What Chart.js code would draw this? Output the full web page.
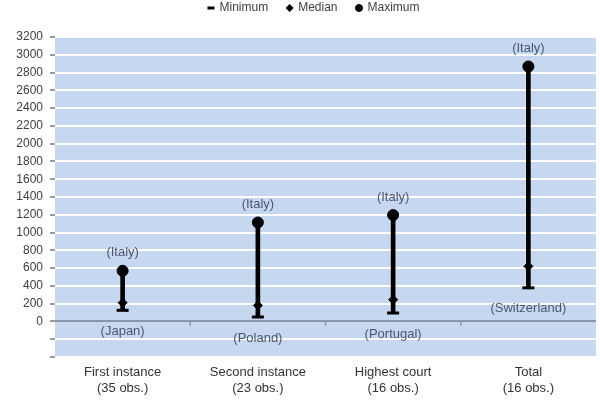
<!DOCTYPE html>
<html>
<head>
<meta charset="utf-8">
<script src="https://cdn.jsdelivr.net/npm/chart.js@4/dist/chart.umd.min.js"></script>
<style>
  html, body { margin: 0; padding: 0; background: #ffffff; }
  #wrap { width: 600px; height: 400px; position: relative; }
</style>
</head>
<body>
<div id="wrap"><canvas id="c"></canvas></div>
<script>
const categories = [
  ['First instance', '(35 obs.)'],
  ['Second instance', '(23 obs.)'],
  ['Highest court', '(16 obs.)'],
  ['Total', '(16 obs.)']
];
const minimum = [125, 50, 95, 378];
const median = [211, 180, 245, 620];
const maximum = [570, 1113, 1197, 2868];
const maxCountry = ['(Italy)', '(Italy)', '(Italy)', '(Italy)'];
const minCountry = ['(Japan)', '(Poland)', '(Portugal)', '(Switzerland)'];
const yMin = -400, yMax = 3200, yStep = 200;

const LEGEND_PAD = 19;

const plotBg = {
  id: 'plotBg',
  beforeLayout(chart) {
    const lg = chart.legend;
    if (lg && !lg._fitWrapped) {
      const f = lg.fit.bind(lg);
      lg.fit = function () { f(); this.height = 37; };
      lg._fitWrapped = true;
    }
  },
  afterLayout(chart) {
    const lg = chart.legend;
    if (lg) {
      lg.top -= 17;
      lg.left += 16;
      lg.right += 16;
    }
  },
  beforeDraw(chart) {
    const {ctx, chartArea: a} = chart;
    ctx.save();
    ctx.fillStyle = '#c5d8ef';
    ctx.fillRect(a.left, a.top, a.right - a.left, a.bottom - a.top);
    ctx.restore();
  },
  afterDatasetsDraw(chart) {
    const {ctx, scales: {x, y}} = chart;
    ctx.save();
    const y0 = y.getPixelForValue(0);
    ctx.strokeStyle = '#8a96a8';
    ctx.lineWidth = 1.5;
    for (let i = 0; i < categories.length - 1; i++) {
      const bx = (x.getPixelForValue(i) + x.getPixelForValue(i + 1)) / 2;
      ctx.beginPath();
      ctx.moveTo(bx, y0 - 1);
      ctx.lineTo(bx, y0 + 4);
      ctx.stroke();
    }
    ctx.font = '13px "Liberation Sans", Arial, sans-serif';
    ctx.fillStyle = '#4c5670';
    ctx.textAlign = 'center';
    ctx.textBaseline = 'middle';
    for (let i = 0; i < categories.length; i++) {
      const cx = x.getPixelForValue(i);
      ctx.fillText(maxCountry[i], cx, y.getPixelForValue(maximum[i]) - 18);
      ctx.fillText(minCountry[i], cx, y.getPixelForValue(minimum[i]) + 21);
    }
    ctx.restore();
  }
};

new Chart(document.getElementById('c'), {
  type: 'bar',
  data: {
    labels: categories,
    datasets: [
      {
        type: 'line', label: 'Minimum', data: minimum, showLine: false,
        pointStyle: 'line', pointRadius: 6, pointHoverRadius: 6,
        borderWidth: 3, pointBorderWidth: 3,
        borderColor: '#000', backgroundColor: '#000', order: 1
      },
      {
        type: 'line', label: 'Median', data: median, showLine: false,
        pointStyle: 'rectRot', pointRadius: 4.5, pointHoverRadius: 4.5,
        borderWidth: 1, borderColor: '#000', backgroundColor: '#000', order: 1
      },
      {
        type: 'line', label: 'Maximum', data: maximum, showLine: false,
        pointStyle: 'circle', pointRadius: 5.5, pointHoverRadius: 5.5,
        borderWidth: 1, borderColor: '#000', backgroundColor: '#000', order: 1
      },
      {
        type: 'bar', label: 'range', data: minimum.map((m, i) => [m, maximum[i]]),
        backgroundColor: '#000', barThickness: 4, order: 5
      }
    ]
  },
  options: {
    responsive: true,
    maintainAspectRatio: false,
    animation: false,
    layout: { autoPadding: false, padding: { left: 0, right: 4, top: 0, bottom: 0 } },
    plugins: {
      tooltip: { enabled: false },
      legend: {
        position: 'top',
        labels: {
          usePointStyle: true,
          boxWidth: 5, boxHeight: 5,
          padding: LEGEND_PAD,
          color: '#404040',
          font: { family: '"Liberation Sans", Arial, sans-serif', size: 12 },
          filter: (item) => item.text !== 'range'
        }
      }
    },
    scales: {
      x: {
        grid: { display: false, drawTicks: false },
        border: { display: false },
        ticks: {
          color: '#333',
          padding: 8,
          maxRotation: 0,
          font: { family: '"Liberation Sans", Arial, sans-serif', size: 13 }
        },
        afterFit(scale) {
          scale.height = 43;
          scale.paddingLeft = 0;
          scale.paddingRight = 0;
        }
      },
      y: {
        min: yMin, max: yMax,
        border: { display: false },
        grid: {
          color: (c) => c.tick && c.tick.value === 0 ? '#8a96a8' : '#ffffff',
          lineWidth: 2,
          tickColor: '#9a9a9a',
          tickLength: 5
        },
        ticks: {
          stepSize: yStep,
          color: '#404040',
          padding: 7,
          font: { family: '"Liberation Sans", Arial, sans-serif', size: 12 },
          callback: (v) => v < 0 ? '' : String(v)
        },
        afterFit(scale) { scale.width = 55; }
      }
    }
  },
  plugins: [plotBg]
});
</script>
</body>
</html>
